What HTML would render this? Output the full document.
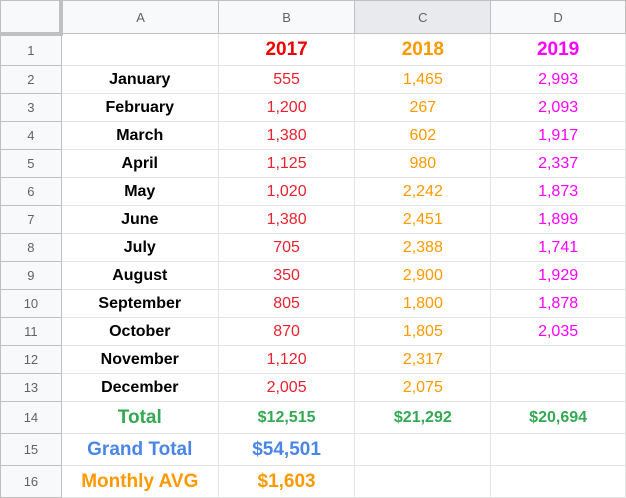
<!DOCTYPE html>
<html><head><meta charset="utf-8"><style>
body{margin:0;width:626px;height:498px;overflow:hidden;background:#fff;font-family:"Liberation Sans",Arial,sans-serif}
table{border-collapse:collapse;table-layout:fixed;position:absolute;left:0;top:0}
td{border:1px solid #e2e3e3;padding:0;text-align:center;white-space:nowrap;overflow:hidden}
td.rh{background:#f8f9fa;color:#5f6368;font-size:13px;border-color:#c0c0c0}
tr.ch td{background:#f8f9fa;color:#5f6368;font-size:13px;border-color:#c0c0c0}
tr.ch td.sel{background:#e8eaed}
td.corner{border-right:4px solid #c0c0c0;border-bottom:4px solid #c0c0c0}
.m{font-weight:bold;font-size:16px;color:#000}
.r{color:#e8222f;font-size:16px}.o{color:#ff9900;font-size:16px}.p{color:#ff00ff;font-size:16px}
.h{font-weight:bold;font-size:19px}
.g{color:#34a853;font-weight:bold;font-size:16px}
</style></head><body>
<table>
<colgroup><col style="width:61px"><col style="width:157px"><col style="width:137px"><col style="width:136px"><col style="width:135px"></colgroup>
<tr class="ch" style="height:33px"><td class="corner"></td><td>A</td><td>B</td><td class="sel">C</td><td>D</td></tr>
<tr style="height:32px"><td class="rh">1</td><td></td><td class="h" style="color:#ee0000">2017</td><td class="h" style="color:#ff9900">2018</td><td class="h" style="color:#ff00ff">2019</td></tr>
<tr style="height:28px"><td class="rh">2</td><td class="m">January</td><td class="r">555</td><td class="o">1,465</td><td class="p">2,993</td></tr>
<tr style="height:28px"><td class="rh">3</td><td class="m">February</td><td class="r">1,200</td><td class="o">267</td><td class="p">2,093</td></tr>
<tr style="height:28px"><td class="rh">4</td><td class="m">March</td><td class="r">1,380</td><td class="o">602</td><td class="p">1,917</td></tr>
<tr style="height:28px"><td class="rh">5</td><td class="m">April</td><td class="r">1,125</td><td class="o">980</td><td class="p">2,337</td></tr>
<tr style="height:28px"><td class="rh">6</td><td class="m">May</td><td class="r">1,020</td><td class="o">2,242</td><td class="p">1,873</td></tr>
<tr style="height:28px"><td class="rh">7</td><td class="m">June</td><td class="r">1,380</td><td class="o">2,451</td><td class="p">1,899</td></tr>
<tr style="height:28px"><td class="rh">8</td><td class="m">July</td><td class="r">705</td><td class="o">2,388</td><td class="p">1,741</td></tr>
<tr style="height:28px"><td class="rh">9</td><td class="m">August</td><td class="r">350</td><td class="o">2,900</td><td class="p">1,929</td></tr>
<tr style="height:28px"><td class="rh">10</td><td class="m">September</td><td class="r">805</td><td class="o">1,800</td><td class="p">1,878</td></tr>
<tr style="height:28px"><td class="rh">11</td><td class="m">October</td><td class="r">870</td><td class="o">1,805</td><td class="p">2,035</td></tr>
<tr style="height:28px"><td class="rh">12</td><td class="m">November</td><td class="r">1,120</td><td class="o">2,317</td><td></td></tr>
<tr style="height:28px"><td class="rh">13</td><td class="m">December</td><td class="r">2,005</td><td class="o">2,075</td><td></td></tr>
<tr style="height:32px"><td class="rh">14</td><td class="g" style="font-size:19px">Total</td><td class="g">$12,515</td><td class="g">$21,292</td><td class="g">$20,694</td></tr>
<tr style="height:32px"><td class="rh">15</td><td style="color:#4a86e8;font-weight:bold;font-size:19px">Grand Total</td><td style="color:#4a86e8;font-weight:bold;font-size:19px">$54,501</td><td></td><td></td></tr>
<tr style="height:32px"><td class="rh">16</td><td style="color:#ff9900;font-weight:bold;font-size:19px">Monthly AVG</td><td style="color:#ff9900;font-weight:bold;font-size:19px">$1,603</td><td></td><td></td></tr>
</table>
</body></html>
